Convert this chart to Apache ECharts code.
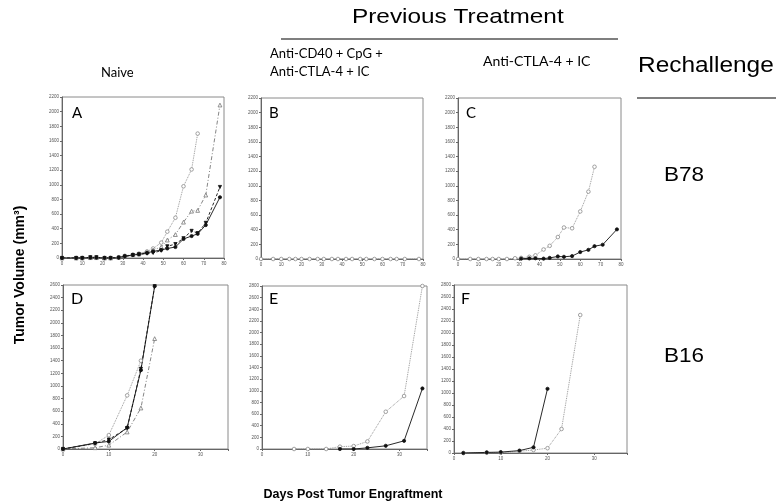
<!DOCTYPE html>
<html><head><meta charset="utf-8">
<script src="https://cdn.jsdelivr.net/npm/echarts@6/dist/echarts.min.js"></script>
<style>html,body{margin:0;padding:0;background:#fff}#c{width:776px;height:504px}</style>
</head><body><div id="c"></div>
<script>
// ---- data ----
const daysA = [0,7,10,14,17,21,24,28,31,35,38,42,45,49,52,56,60,64,67,71,78];
const aOpenCircle = [0,0,0,5,5,0,0,10,30,45,60,90,130,210,360,550,980,1210,1700];
const aOpenTriangle = [0,0,0,5,5,0,0,10,25,45,55,80,110,150,245,320,490,640,650,860,2090];
const aFilledTriangle = [0,0,0,10,10,0,0,5,20,40,50,60,70,100,160,190,270,370,340,480,970];
const aFilledCircle = [0,0,0,5,5,0,0,5,25,40,50,70,90,110,130,150,260,300,330,450,830];

const daysB = [0,6,10,14,17,20,24,28,31,35,38,42,45,49,52,56,60,64,67,71,78];
const bOpenCircle = [0,0,0,0,0,0,0,0,0,0,0,0,0,0,0,0,0,0,0,0,0];

const daysCOpen = [0,6,10,14,17,20,24,28,31,35,38,42,45,49,52,56,60,64,67];
const cOpenCircle = [0,0,0,0,0,0,0,10,15,30,50,130,180,300,430,420,650,920,1260];
const daysCFilled = [31,35,38,42,45,49,52,56,60,64,67,71,78];
const cFilledCircle = [5,8,10,5,15,35,30,40,95,125,175,195,405];

const daysD = [0,7,10,14,17,20];
const dOpenCircle = [0,80,220,850,1400];
const dFilledTriangle = [0,90,150,330,1270,2580];
const dFilledCircle = [0,95,120,340,1250,2580];
const dOpenTriangle = [0,20,60,270,650,1750];

const daysEOpen = [7,10,14,17,20,23,27,31,35];
const eOpenCircle = [0,0,0,40,50,130,640,910,2800];
const daysEFilled = [17,20,23,27,31,35];
const eFilledCircle = [0,0,20,55,140,1040];

const daysFOpen = [2,7,10,14,17,20,23,27];
const fOpenCircle = [0,5,5,30,50,80,400,2300];
const daysFFilled = [2,7,10,14,17,20];
const fFilledCircle = [0,10,15,40,95,1070];

const panelLetters = ['A','B','C','D','E','F'];

// ---- chart ----
const pairs = (d, v) => v.map((y, i) => [d[i], y]);
const grids = [
  {left:62, top:97, width:162, height:161},
  {left:261, top:98, width:162, height:161},
  {left:458, top:98, width:163, height:161},
  {left:63, top:285, width:165, height:164},
  {left:262, top:286, width:165, height:163},
  {left:454, top:285, width:173, height:168}
].map(g => Object.assign({show:true, borderColor:'#8a8a8a', borderWidth:1, backgroundColor:'transparent'}, g));

const xMax = [80,80,80,36,36,37];
const yMax = [2200,2200,2200,2600,2800,2800];
const small = {fontSize:4.5, color:'#555', fontFamily:'Liberation Sans'};
const xAxes = xMax.map((m,i) => ({
  gridIndex:i, type:'value', min:0, max:m, interval:10,
  axisLine:{show:true, lineStyle:{color:'#666', width:1}},
  axisTick:{show:true, length:2, lineStyle:{color:'#666'}},
  splitLine:{show:false},
  axisLabel:Object.assign({margin:3, formatter: v => (v % 10 === 0 ? String(v) : '')}, small)
}));
const yAxes = yMax.map((m,i) => ({
  gridIndex:i, type:'value', min:0, max:m, interval:200,
  axisLine:{show:true, lineStyle:{color:'#666', width:1}},
  axisTick:{show:true, length:2, lineStyle:{color:'#666'}},
  splitLine:{show:false},
  axisLabel:Object.assign({margin:3, formatter: v => String(v)}, small)
}));

const styles = {
  openCircle: {symbol:'circle', fill:'#fff', color:'#8a8a8a', type:'dotted', size:3.6},
  openTriangle: {symbol:'triangle', fill:'#fff', color:'#777', type:[4,2,1,2], size:3.8},
  filledTriangle: {symbol:'triangle', rotate:180, fill:'#111', color:'#111', type:[3,2], size:3.2},
  filledCircle: {symbol:'circle', fill:'#111', color:'#111', type:'solid', size:3.2}
};
function ser(idx, data, st) {
  return {
    type:'line', xAxisIndex:idx, yAxisIndex:idx, data:data,
    symbol:st.symbol, symbolSize:st.size, symbolRotate:st.rotate || 0, showAllSymbol:true,
    itemStyle:{color:st.fill, borderColor:st.color, borderWidth:0.8},
    lineStyle:{color:st.color, width:0.9, type:st.type},
    silent:true, animation:false
  };
}
const series = [
  ser(0, pairs(daysA, aOpenCircle), styles.openCircle),
  ser(0, pairs(daysA, aOpenTriangle), styles.openTriangle),
  ser(0, pairs(daysA, aFilledTriangle), styles.filledTriangle),
  ser(0, pairs(daysA, aFilledCircle), styles.filledCircle),
  ser(1, pairs(daysB, bOpenCircle), styles.openCircle),
  ser(2, pairs(daysCOpen, cOpenCircle), styles.openCircle),
  ser(2, pairs(daysCFilled, cFilledCircle), styles.filledCircle),
  ser(3, pairs(daysD, dOpenCircle), styles.openCircle),
  ser(3, pairs(daysD, dOpenTriangle), styles.openTriangle),
  ser(3, pairs(daysD, dFilledCircle), styles.filledCircle),
  ser(3, pairs(daysD, dFilledTriangle), styles.filledTriangle),
  ser(4, pairs(daysEOpen, eOpenCircle), styles.openCircle),
  ser(4, pairs(daysEFilled, eFilledCircle), styles.filledCircle),
  ser(5, pairs(daysFOpen, fOpenCircle), styles.openCircle),
  ser(5, pairs(daysFFilled, fFilledCircle), styles.filledCircle)
];

const letterPos = [[72,106,15],[269,106,15],[466,106,15],[71,291,16],[269,291,16],[461,291,16]];
const txt = (x,y,t,size,extra,sx) => ({type:'text', x:x, y:y, scaleX:sx||1, style:Object.assign({text:t, font: size+'px "Liberation Sans"', fill:'#000', textVerticalAlign:'top'}, extra||{})});
const graphic = [
  txt(352,7,'Previous Treatment',21,null,1.16),
  {type:'line', shape:{x1:281,y1:39,x2:618,y2:39}, style:{stroke:'#000', lineWidth:1.2}},
  txt(270,47,'Anti-CD40 + CpG +',13,{font:'13px Lato'}),
  txt(270,65,'Anti-CTLA-4 + IC',13,{font:'13px Lato'}),
  txt(483,55,'Anti-CTLA-4 + IC',13,{font:'13px Lato'},1.08),
  txt(101,66,'Naive',13,{font:'13px Lato'}),
  txt(638,55,'Rechallenge',22,null,1.11),
  {type:'line', shape:{x1:637,y1:98,x2:776,y2:98}, style:{stroke:'#000', lineWidth:1.2}},
  txt(664,165,'B78',21,null,1.07),
  txt(664,346,'B16',21,null,1.07),
  {type:'text', x:13, y:275, rotation:Math.PI/2, style:{text:'Tumor Volume (mm³)', font:'bold 14px "Liberation Sans"', fill:'#000', textAlign:'center', textVerticalAlign:'top'}},
  {type:'text', x:353, y:488, style:{text:'Days Post Tumor Engraftment', font:'bold 12.5px "Liberation Sans"', fill:'#000', textAlign:'center', textVerticalAlign:'top'}}
].concat(panelLetters.map((L,i) => txt(letterPos[i][0], letterPos[i][1], L, letterPos[i][2], {font: letterPos[i][2]+'px Lato'})));

const chart = echarts.init(document.getElementById('c'), null, {renderer:'canvas'});
chart.setOption({animation:false, backgroundColor:'#fff', grid:grids, xAxis:xAxes, yAxis:yAxes, series:series, graphic:graphic});
</script></body></html>
